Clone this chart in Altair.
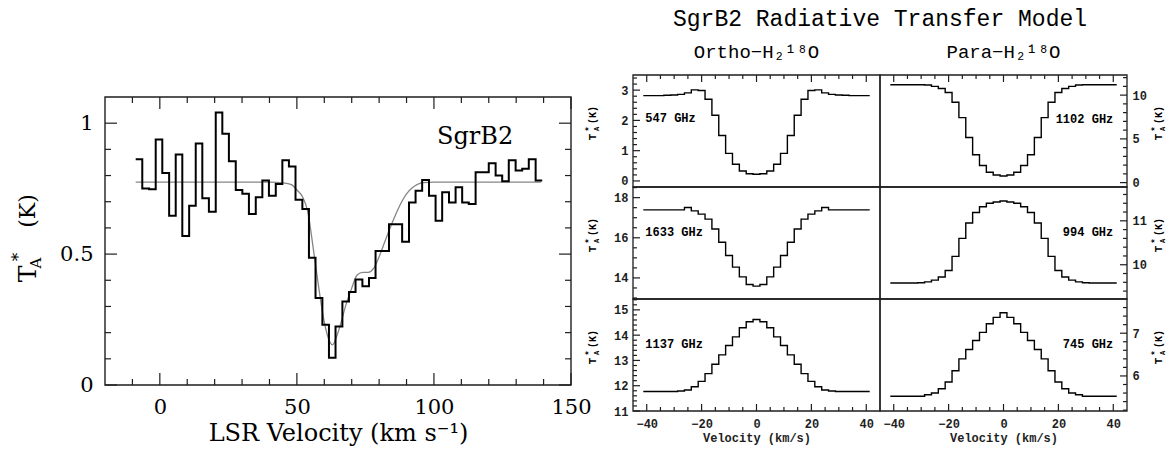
import altair as alt
import pandas as pd

# ---------------- Left panel: observed SgrB2 spectrum ----------------
OBS_EDGES = [-8.8, -6.4, -3.9, -1.5, 0.9, 3.4, 5.8, 8.2, 10.7, 13.1, 15.5, 17.9, 20.4, 22.8,
             25.2, 27.7, 30.1, 32.5, 35.0, 37.4, 39.8, 42.3, 44.7, 47.1, 49.5, 52.0, 54.4,
             56.8, 59.3, 61.7, 64.1, 66.6, 69.0, 71.4, 73.9, 76.3, 78.7, 81.1, 83.6, 86.0,
             88.4, 90.9, 93.3, 95.7, 98.2, 100.6, 103.0, 105.5, 107.9, 110.3, 112.7, 115.2,
             117.6, 120.0, 122.5, 124.9, 127.3, 129.8, 132.2, 134.6, 137.1, 139.5]
OBS_TA = [0.862, 0.751, 0.748, 0.938, 0.810, 0.646, 0.880, 0.569, 0.685, 0.922, 0.713, 0.662,
          1.041, 0.960, 0.855, 0.745, 0.730, 0.653, 0.717, 0.781, 0.723, 0.768, 0.858, 0.835,
          0.708, 0.672, 0.486, 0.332, 0.230, 0.104, 0.223, 0.319, 0.355, 0.403, 0.377, 0.409,
          0.512, 0.512, 0.614, 0.614, 0.547, 0.697, 0.742, 0.783, 0.723, 0.627, 0.736, 0.697,
          0.755, 0.697, 0.691, 0.813, 0.813, 0.847, 0.800, 0.778, 0.858, 0.819, 0.826, 0.862,
          0.781]
FIT_V = [-8.8, 40, 45, 48, 50, 52, 54, 56, 58, 60, 62, 63, 64.5, 66, 68, 70, 72, 74, 76, 78,
         80, 82, 84, 86, 88, 90, 92, 94, 96, 100, 139]
FIT_TA = [0.775, 0.775, 0.772, 0.765, 0.745, 0.72, 0.66, 0.52, 0.37, 0.24, 0.165, 0.153, 0.185,
          0.235, 0.31, 0.37, 0.42, 0.43, 0.43, 0.445, 0.49, 0.545, 0.60, 0.65, 0.695, 0.73,
          0.752, 0.766, 0.773, 0.775, 0.775]
LEFT_X_DOMAIN = [-20, 150]
LEFT_Y_DOMAIN = [0, 1.1]
LEFT_X_MAJOR = [0, 50, 100, 150]
LEFT_X_MINOR = [-10, 10, 20, 30, 40, 60, 70, 80, 90, 110, 120, 130, 140]
LEFT_Y_MAJOR = [0, 0.5, 1]
LEFT_Y_MINOR = [0.1, 0.2, 0.3, 0.4, 0.6, 0.7, 0.8, 0.9]

# ---------------- Right panels: radiative transfer model ----------------
MODEL_EDGES = [-41.25, -38.75, -36.25, -33.75, -31.25, -28.75, -26.25, -23.75, -21.25, -18.75,
               -16.25, -13.75, -11.25, -8.75, -6.25, -3.75, -1.25, 1.25, 3.75, 6.25, 8.75,
               11.25, 13.75, 16.25, 18.75, 21.25, 23.75, 26.25, 28.75, 31.25, 33.75, 36.25,
               38.75, 41.25]
T547 = [2.82, 2.82, 2.82, 2.83, 2.84, 2.86, 2.91, 3.01, 2.99, 2.70, 2.17, 1.50, 0.91, 0.55,
        0.33, 0.24, 0.22, 0.24, 0.33, 0.55, 0.91, 1.50, 2.17, 2.70, 2.99, 3.01, 2.91, 2.86,
        2.84, 2.83, 2.82, 2.82, 2.82]
T1102 = [11.19, 11.19, 11.19, 11.19, 11.19, 11.15, 11.0, 10.75, 10.3, 9.18, 7.43, 5.15, 3.19,
         1.95, 1.18, 0.87, 0.76, 0.87, 1.18, 1.95, 3.19, 5.15, 7.43, 9.18, 10.3, 10.75, 11.0,
         11.15, 11.19, 11.19, 11.19, 11.19, 11.19]
T1633 = [17.39, 17.39, 17.39, 17.39, 17.39, 17.39, 17.51, 17.34, 17.18, 16.93, 16.44, 15.78,
         15.12, 14.54, 14.05, 13.67, 13.59, 13.67, 14.05, 14.54, 15.12, 15.78, 16.44, 16.93,
         17.18, 17.34, 17.51, 17.39, 17.39, 17.39, 17.39, 17.39, 17.39]
T994 = [9.585, 9.585, 9.585, 9.585, 9.59, 9.61, 9.65, 9.72, 9.87, 10.19, 10.60, 10.95, 11.19,
        11.32, 11.40, 11.43, 11.45, 11.43, 11.40, 11.32, 11.19, 10.95, 10.60, 10.19, 9.87,
        9.72, 9.65, 9.61, 9.59, 9.585, 9.585, 9.585, 9.585]
T1137 = [11.77, 11.77, 11.77, 11.77, 11.77, 11.79, 11.83, 11.96, 12.17, 12.48, 12.85, 13.22,
         13.59, 13.93, 14.29, 14.53, 14.62, 14.53, 14.29, 13.93, 13.59, 13.22, 12.85, 12.48,
         12.17, 11.96, 11.83, 11.79, 11.77, 11.77, 11.77, 11.77, 11.77]
T745 = [5.525, 5.525, 5.525, 5.525, 5.525, 5.56, 5.60, 5.70, 5.86, 6.12, 6.40, 6.62, 6.83,
        7.02, 7.22, 7.37, 7.48, 7.37, 7.22, 7.02, 6.83, 6.62, 6.40, 6.12, 5.86, 5.70, 5.60,
        5.56, 5.525, 5.525, 5.525, 5.525, 5.525]
MODEL_X_DOMAIN = [-45, 45]
MODEL_X_MAJOR = [-40, -20, 0, 20, 40]
MODEL_X_MINOR = [-35, -30, -25, -15, -10, -5, 5, 10, 15, 25, 30, 35]

SERIF = "DejaVu Serif"
MONO = "Liberation Mono"
INK = "#1e1e1e"

# ---------------- layout (pixels inside the single drawing area) ----------------
CW, CH = 1159, 439
L_LEFT, L_RIGHT, L_TOP, L_BOTTOM = 97, 563, 89, 377
M_COLS = [(625, 872), (872, 1119)]
M_ROWS = [(67, 179), (179, 291), (291, 403)]


def scl(dom, rng):
    return alt.Scale(domain=list(dom), range=list(rng), nice=False, zero=False)


def txt(s, x, y, size, font, angle=0, align="center", weight="normal"):
    return alt.Chart(pd.DataFrame({"s": [s]})).mark_text(
        font=font, fontSize=size, fontWeight=weight, angle=angle, align=align,
        baseline="middle", color="black").encode(
        x=alt.value(x), y=alt.value(y), text="s:N")


def tick_rules(vals, ch, scale, a, b, width=1.2):
    df = pd.DataFrame({"v": vals})
    if ch == "x":
        enc = dict(x=alt.X("v:Q", scale=scale, axis=None), y=alt.value(a), y2=alt.value(b))
    else:
        enc = dict(y=alt.Y("v:Q", scale=scale, axis=None), x=alt.value(a), x2=alt.value(b))
    return alt.Chart(df).mark_rule(color=INK, strokeWidth=width).encode(**enc)


def frame(xs, ys, xdom, ydom, width=1.3):
    df = pd.DataFrame({"x0": [xdom[0]], "x1": [xdom[1]], "y0": [ydom[0]], "y1": [ydom[1]]})
    return alt.Chart(df).mark_rect(fill="transparent", stroke=INK, strokeWidth=width).encode(
        x=alt.X("x0:Q", scale=xs, axis=None), x2="x1:Q",
        y=alt.Y("y0:Q", scale=ys, axis=None), y2="y1:Q")


layers = []

# ---------------- left chart ----------------
xsL = scl(LEFT_X_DOMAIN, [L_LEFT, L_RIGHT])
ysL = scl(LEFT_Y_DOMAIN, [L_BOTTOM, L_TOP])
obs_df = pd.DataFrame({"v": OBS_EDGES, "T": OBS_TA + [OBS_TA[-1]]})
fit_df = pd.DataFrame({"v": FIT_V, "T": FIT_TA})

layers.append(alt.Chart(fit_df).mark_line(color="#858585", strokeWidth=1.3, interpolate="monotone").encode(
    x=alt.X("v:Q", scale=xsL, axis=alt.Axis(
        orient="bottom", offset=L_BOTTOM - CH, values=LEFT_X_MAJOR, ticks=False, domain=False,
        grid=False, labelFont=SERIF, labelFontSize=21, labelColor="black", labelPadding=11,
        labelFlush=False, title="LSR Velocity (km s⁻¹)", titleFont=SERIF, titleFontSize=24,
        titleFontWeight="normal", titleColor="black", titlePadding=4)),
    y=alt.Y("T:Q", scale=ysL, axis=alt.Axis(
        orient="left", offset=-L_LEFT, values=LEFT_Y_MAJOR, ticks=False, domain=False,
        grid=False, labelFont=SERIF, labelFontSize=21, labelColor="black", labelPadding=12,
        labelExpr="'' + datum.value", title=""))))
layers.append(alt.Chart(obs_df).mark_line(color="black", strokeWidth=2, interpolate="step-after").encode(
    x=alt.X("v:Q", scale=xsL, axis=None), y=alt.Y("T:Q", scale=ysL, axis=None)))
layers.append(alt.Chart(pd.DataFrame({"v": [115], "T": [0.946], "s": ["SgrB2"]})).mark_text(
    font=SERIF, fontSize=24, color="black").encode(
    x=alt.X("v:Q", scale=xsL, axis=None), y=alt.Y("T:Q", scale=ysL, axis=None), text="s:N"))
layers += [
    tick_rules(LEFT_X_MAJOR, "x", xsL, L_BOTTOM, L_BOTTOM - 12),
    tick_rules(LEFT_X_MINOR, "x", xsL, L_BOTTOM, L_BOTTOM - 6),
    tick_rules(LEFT_X_MAJOR, "x", xsL, L_TOP, L_TOP + 12),
    tick_rules(LEFT_X_MINOR, "x", xsL, L_TOP, L_TOP + 6),
    tick_rules(LEFT_Y_MAJOR, "y", ysL, L_LEFT, L_LEFT + 12),
    tick_rules(LEFT_Y_MINOR, "y", ysL, L_LEFT, L_LEFT + 6),
    tick_rules(LEFT_Y_MAJOR, "y", ysL, L_RIGHT, L_RIGHT - 12),
    tick_rules(LEFT_Y_MINOR, "y", ysL, L_RIGHT, L_RIGHT - 6),
    frame(xsL, ysL, LEFT_X_DOMAIN, LEFT_Y_DOMAIN, 1.4),
    txt("T", L_LEFT - 77, L_TOP + 177, 25, SERIF, angle=270),
    txt("A", L_LEFT - 69, L_TOP + 166, 15, SERIF, angle=270),
    txt("*", L_LEFT - 86, L_TOP + 160, 17, SERIF, angle=270),
    txt("(K)", L_LEFT - 77, L_TOP + 114, 22, SERIF, angle=270),
]


# ---------------- model panels ----------------
def model_panel(vals, ydom, ymaj, ymin, col, row, tag, tag_y):
    x0, x1 = M_COLS[col]
    top, bot = M_ROWS[row]
    xs = scl(MODEL_X_DOMAIN, [x0, x1])
    ys = scl(ydom, [bot, top])
    df = pd.DataFrame({"v": MODEL_EDGES, "T": vals + [vals[-1]]})
    if row == 2:
        xaxis = alt.Axis(orient="bottom", offset=bot - CH, values=MODEL_X_MAJOR, ticks=False,
                         domain=False, grid=False, labelFont=MONO, labelFontWeight="bold",
                         labelFontSize=12, labelColor=INK, labelPadding=7, labelFlush=False,
                         title="Velocity (km/s)", titleFont=MONO, titleFontWeight="bold",
                         titleFontSize=12, titleColor=INK, titlePadding=3)
    else:
        xaxis = None
    yaxis = alt.Axis(orient="left" if col == 0 else "right",
                     offset=-x0 if col == 0 else x1 - CW, values=ymaj, ticks=False,
                     domain=False, grid=False, labelFont=MONO, labelFontWeight="bold",
                     labelFontSize=12, labelColor=INK, labelPadding=5,
                     labelExpr="'' + datum.value", title="")
    out = [alt.Chart(df).mark_line(interpolate="step-after", color="black", strokeWidth=1.4).encode(
        x=alt.X("v:Q", scale=xs, axis=xaxis), y=alt.Y("T:Q", scale=ys, axis=yaxis))]
    out.append(alt.Chart(pd.DataFrame({"v": [-40.5 if col == 0 else 40.0], "T": [tag_y], "s": [tag]})).mark_text(
        font=MONO, fontSize=12, fontWeight="bold", color="black",
        align="left" if col == 0 else "right", baseline="middle").encode(
        x=alt.X("v:Q", scale=xs, axis=None), y=alt.Y("T:Q", scale=ys, axis=None), text="s:N"))
    if row == 0:
        out.append(tick_rules(MODEL_X_MAJOR, "x", xs, top, top + 7))
        out.append(tick_rules(MODEL_X_MINOR, "x", xs, top, top + 4))
    if row == 2:
        out.append(tick_rules(MODEL_X_MAJOR, "x", xs, bot, bot - 7))
        out.append(tick_rules(MODEL_X_MINOR, "x", xs, bot, bot - 4))
    if col == 0:
        out.append(tick_rules(ymaj, "y", ys, x0, x0 + 7))
        out.append(tick_rules(ymin, "y", ys, x0, x0 + 4))
        bx = x0 - 40
    else:
        out.append(tick_rules(ymaj, "y", ys, x1, x1 - 7))
        out.append(tick_rules(ymin, "y", ys, x1, x1 - 4))
        bx = x1 + 32
    out.append(frame(xs, ys, MODEL_X_DOMAIN, ydom))
    out += [
        txt("T", bx, top + 62, 11, MONO, angle=270, weight="bold"),
        txt("A", bx + 4, top + 54, 7, MONO, angle=270, weight="bold"),
        txt("*", bx - 4, top + 54, 9, MONO, angle=270, weight="bold"),
        txt("(K)", bx, top + 40, 10, MONO, angle=270, weight="bold"),
    ]
    return out


layers += model_panel(T547, [-0.2, 3.5], [0, 1, 2, 3],
                      [0.2, 0.4, 0.6, 0.8, 1.2, 1.4, 1.6, 1.8, 2.2, 2.4, 2.6, 2.8, 3.2, 3.4],
                      0, 0, "547 GHz", 2.07)
layers += model_panel(T1102, [-0.5, 12.3], [0, 5, 10], [1, 2, 3, 4, 6, 7, 8, 9, 11, 12],
                      1, 0, "1102 GHz", 7.23)
layers += model_panel(T1633, [12.95, 18.53], [14, 16, 18],
                      [13, 13.5, 14.5, 15, 15.5, 16.5, 17, 17.5, 18.5], 0, 1, "1633 GHz", 16.31)
layers += model_panel(T994, [9.22, 11.77], [10, 11],
                      [9.4, 9.6, 9.8, 10.2, 10.4, 10.6, 10.8, 11.2, 11.4, 11.6], 1, 1, "994 GHz", 10.75)
layers += model_panel(T1137, [11.0, 15.43], [11, 12, 13, 14, 15],
                      [11.2, 11.4, 11.6, 11.8, 12.2, 12.4, 12.6, 12.8, 13.2, 13.4, 13.6, 13.8,
                       14.2, 14.4, 14.6, 14.8, 15.2, 15.4], 0, 2, "1137 GHz", 13.66)
layers += model_panel(T745, [5.18, 7.8], [6, 7],
                      [5.2, 5.4, 5.6, 5.8, 6.2, 6.4, 6.6, 6.8, 7.2, 7.4, 7.6], 1, 2, "745 GHz", 6.75)

layers += [
    txt("SgrB2 Radiative Transfer Model", M_COLS[0][1], 11, 23, MONO),
    txt("Ortho−H₂¹⁸O", (M_COLS[0][0] + M_COLS[0][1]) / 2, 44, 19, MONO),
    txt("Para−H₂¹⁸O", (M_COLS[1][0] + M_COLS[1][1]) / 2, 44, 19, MONO),
]

chart = alt.layer(*layers).resolve_scale(x="independent", y="independent").properties(
    width=CW, height=CH, autosize=alt.AutoSizeParams(type="none"), padding=0,
    background="white").configure_view(stroke="transparent")

chart.save("out.html", embed_options={"renderer": "svg", "actions": False})
